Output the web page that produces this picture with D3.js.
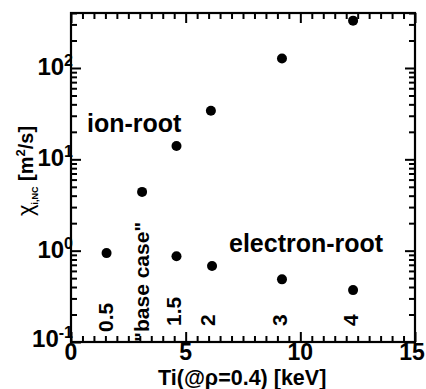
<!DOCTYPE html>
<html>
<head>
<meta charset="utf-8">
<script src="https://cdn.jsdelivr.net/npm/d3@7"></script>
<style>
  body { margin: 0; background: #fff; }
  text { font-family: "Liberation Sans", Arial, sans-serif; font-weight: bold; fill: #000; }
</style>
</head>
<body>
<div id="chart"></div>
<script>
// values
const ionTi = [3.1, 4.6, 6.1, 9.2, 12.3]
const ionChi = [4.4, 14, 34, 127, 330]
const elecTi = [1.55, 4.6, 6.15, 9.2, 12.3]
const elecChi = [0.94, 0.87, 0.68, 0.485, 0.37]
const caseLabels = ['0.5', '"base case"', '1.5', '2', '3', '4']
const caseTi = [1.5, 3.07, 4.45, 5.95, 9.1, 12.2]
const xTicks = [0, 5, 10, 15]
const yDecades = [-1, 0, 1, 2]

const width = 426
const height = 389
const margin = {left: 71, right: 11, top: 13, bottom: 47}

const svg = d3.select('#chart').append('svg')
  .attr('width', width)
  .attr('height', height)

const x = d3.scaleLinear().domain([0, 15]).range([margin.left, width - margin.right])
const y = d3.scaleLog().domain([0.1, 400]).range([height - margin.bottom, margin.top])

// minor ticks
const xMinor = d3.range(0, 15.01, 0.5).filter(v => v % 5 !== 0)
const yMinor = []
for (let e = -1; e <= 2; e++) {
  for (let m = 2; m <= 9; m++) {
    const v = m * 10 ** e
    if (v <= 400) yMinor.push(v)
  }
}
const yMajor = yDecades.map(e => 10 ** e)

// inward ticks on all four sides
function tickAxis (axisFn, scale, vals, len, pos) {
  svg.append('g')
    .attr('transform', pos)
    .call(axisFn(scale).tickValues(vals).tickSize(-len).tickFormat(''))
    .call(g => g.select('.domain').remove())
    .call(g => g.selectAll('line').attr('stroke', '#000').attr('stroke-width', 2))
}
tickAxis(d3.axisBottom, x, xMinor, 6, `translate(0,${y(0.1)})`)
tickAxis(d3.axisBottom, x, xTicks, 10, `translate(0,${y(0.1)})`)
tickAxis(d3.axisTop, x, xMinor, 6, `translate(0,${y(400)})`)
tickAxis(d3.axisTop, x, xTicks, 10, `translate(0,${y(400)})`)
tickAxis(d3.axisLeft, y, yMinor, 6, `translate(${x(0)},0)`)
tickAxis(d3.axisLeft, y, yMajor, 10, `translate(${x(0)},0)`)
tickAxis(d3.axisRight, y, yMinor, 6, `translate(${x(15)},0)`)
tickAxis(d3.axisRight, y, yMajor, 10, `translate(${x(15)},0)`)

svg.append('rect')
  .attr('x', x(0)).attr('y', y(400))
  .attr('width', x(15) - x(0)).attr('height', y(0.1) - y(400))
  .attr('fill', 'none').attr('stroke', '#000').attr('stroke-width', 2.2)

// tick labels
svg.selectAll('.xt').data(xTicks).enter().append('text')
  .attr('class', 'xt')
  .attr('x', d => Math.min(x(d), width - 14)).attr('y', y(0.1) + 18)
  .attr('text-anchor', 'middle')
  .attr('font-size', 23)
  .text(d => d)

const yl = svg.selectAll('.yt').data(yDecades).enter().append('text')
  .attr('class', 'yt')
  .attr('x', x(0) + 2).attr('y', d => y(10 ** d) + (d === -1 ? 5 : 7))
  .attr('text-anchor', 'end')
  .attr('font-size', 24)
yl.append('tspan').text('10')
yl.append('tspan').attr('dy', -9).attr('font-size', 16).text(d => d)

// points
svg.selectAll('.ion').data(ionTi).enter().append('circle')
  .attr('cx', d => x(d)).attr('cy', (d, i) => y(ionChi[i])).attr('r', 5).attr('fill', '#000')
svg.selectAll('.el').data(elecTi).enter().append('circle')
  .attr('cx', d => x(d)).attr('cy', (d, i) => y(elecChi[i])).attr('r', 5).attr('fill', '#000')

// rotated case labels
svg.selectAll('.case').data(caseLabels).enter().append('text')
  .attr('transform', (d, i) => `translate(${x(caseTi[i]) + 7.5},${i === 0 ? 332 : i === 1 ? 342 : 326}) rotate(-90)`)
  .attr('font-size', 21)
  .text(d => d)

svg.append('text').attr('x', 87).attr('y', 132).attr('font-size', 25).text('ion-root')
svg.append('text').attr('x', 229).attr('y', 252).attr('font-size', 25).text('electron-root')

// axis titles
svg.append('text').attr('x', 158).attr('y', 385)
  .attr('font-size', 21.5)
  .text('Ti(@ρ=0.4) [keV]')

const ytl = svg.append('text')
  .attr('transform', `translate(33,171) rotate(-90)`)
  .attr('text-anchor', 'middle').attr('font-size', 20)
ytl.append('tspan').attr('font-weight', 'normal').attr('font-size', 22).text('χ')
ytl.append('tspan').attr('font-size', 9).attr('dy', 5).text('i,NC')
ytl.append('tspan').attr('dy', -5).text(' [m')
ytl.append('tspan').attr('font-size', 13).attr('dy', -8).text('2')
ytl.append('tspan').attr('dy', 8).text('/s]')
</script>
</body>
</html>
